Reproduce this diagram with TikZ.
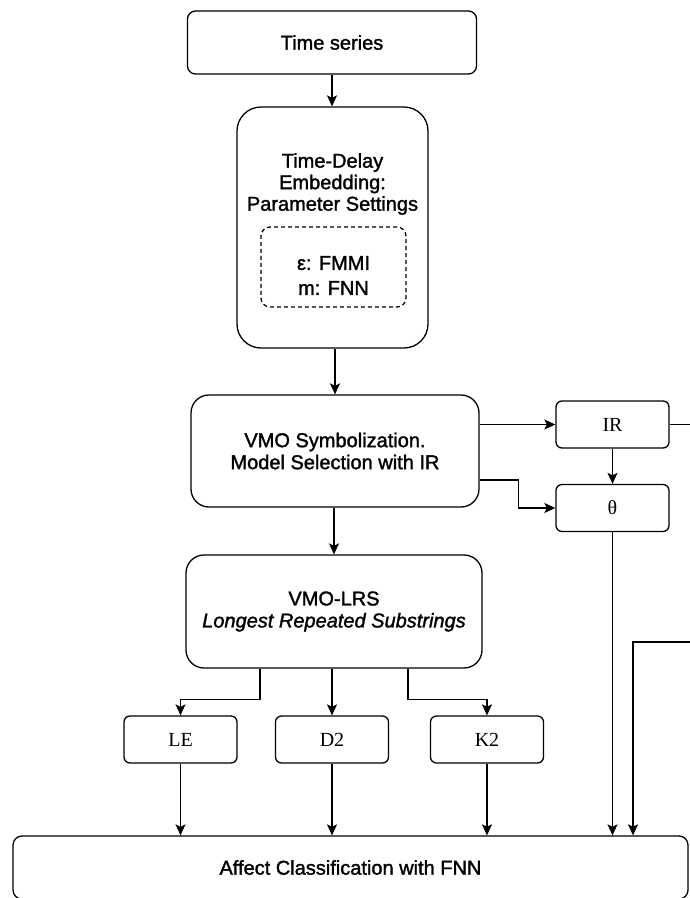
\documentclass[tikz,border=0pt]{standalone}
\usepackage{fontspec}
\setmainfont[FakeBold=1.5]{Liberation Sans}
\newfontfamily\seriffont{Liberation Serif}
\usetikzlibrary{arrows.meta,calc}
\tikzset{
  box/.style={draw, line width=1.3pt, rounded corners=#1, inner sep=0pt, align=center,
    font=\fontsize{20}{22}\selectfont},
  box/.default=8pt,
  sbox/.style={draw, line width=1.3pt, rounded corners=6pt, inner sep=0pt,
    minimum width=113pt, minimum height=47pt, font=\seriffont\fontsize{20}{22}\selectfont},
  arr/.style={line width=1.3pt, -{Stealth[length=11pt,width=10pt,inset=2.5pt]}},
  ln/.style={line width=1.3pt}
}
\begin{document}
\begin{tikzpicture}[x=1pt,y=-1pt]
\useasboundingbox (0,0) rectangle (690,898);
% nodes
\node[box=8pt, minimum width=289pt, minimum height=63pt] (ts) at (332,42.5) {Time series};
\node[box=24pt, minimum width=191pt, minimum height=241pt] (tde) at (332.5,227.5) {};
\node[align=center, inner sep=0pt, font=\fontsize{20}{21.5}\selectfont] (tdetxt) at (332.5,184) {Time-Delay\\Embedding:\\Parameter Settings};
\node[draw, line width=1.3pt, dash pattern=on 4pt off 3pt, rounded corners=9pt, minimum width=145pt, minimum height=80pt, inner sep=0pt] (dash) at (333.5,267) {};
\node[align=center, inner sep=0pt, font=\fontsize{20}{25}\selectfont] (dashtxt) at (333.5,275.5) {ε: FMMI\\m: FNN};
\node[box=18pt, minimum width=288pt, minimum height=112pt] (vmo) at (335,451) {VMO Symbolization.\\Model Selection with IR};
\node[sbox] (ir) at (612.5,424.5) {IR};
\node[sbox] (th) at (612.5,508) {θ};
\node[box=18pt, minimum width=296pt, minimum height=113pt] (lrs) at (334,611.5) {VMO-LRS\\\textit{Longest Repeated Substrings}};
\node[sbox] (le) at (180.5,739.5) {LE};
\node[sbox] (d2) at (332,739.5) {D2};
\node[sbox] (k2) at (487,739.5) {K2};
\node[box=9pt, minimum width=675pt, minimum height=63pt] (aff) at (350.5,867.5) {Affect Classification with FNN};
% coordinates
\coordinate (fbr) at (705,642);
\coordinate (fbx) at (633,642);
% connectors
\draw[arr] (ts.south) -- (ts.south |- tde.north);
\draw[arr] (tde.south -| vmo.north) -- (vmo.north);
\draw[arr] (vmo.south -| lrs.north) -- (lrs.north);
\draw[arr] (vmo.east |- ir.west) -- (ir.west);
\draw[arr] ([yshift=-29pt]vmo.east) -- ++(39,0) |- (th.west);
\draw[arr] (ir.south) -- (th.north);
\draw[arr] (ir.east) -| (fbr) -- (fbx) -- (fbx |- aff.north);
\draw[arr] (th.south) -- (th.south |- aff.north);
\draw[arr] ([xshift=-74pt]lrs.south) -- ++(0,31) -| (le.north);
\draw[arr] (lrs.south -| d2.north) -- (d2.north);
\draw[arr] ([xshift=74pt]lrs.south) -- ++(0,31) -| (k2.north);
\draw[arr] (le.south) -- (le.south |- aff.north);
\draw[arr] (d2.south) -- (d2.south |- aff.north);
\draw[arr] (k2.south) -- (k2.south |- aff.north);
\end{tikzpicture}
\end{document}
